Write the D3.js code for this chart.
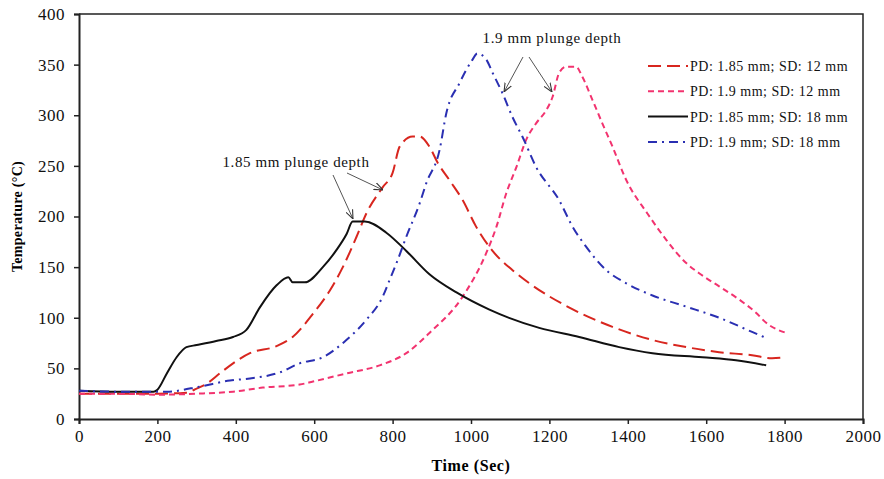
<!DOCTYPE html>
<html>
<head>
<meta charset="utf-8">
<script src="https://cdn.jsdelivr.net/npm/d3@7"></script>
<style>
  body { margin: 0; background: #fff; }
  text { font-family: "Liberation Serif", "Times New Roman", serif; }
</style>
</head>
<body>
<div id="chart"></div>
<script>
// Temperature vs time for four plunge/shoulder combinations
const width = 884, height = 479, margin = {top: 14, right: 21, bottom: 60, left: 79};

const xTicks = [0, 200, 400, 600, 800, 1000, 1200, 1400, 1600, 1800, 2000];
const yTicks = [0, 50, 100, 150, 200, 250, 300, 350, 400];

const seriesNames = ["PD: 1.85 mm; SD: 12 mm", "PD: 1.9 mm; SD: 12 mm", "PD: 1.85 mm; SD: 18 mm", "PD: 1.9 mm; SD: 18 mm"];

const redTime = [0, 100, 200, 274, 300, 326, 359, 393, 436, 504, 545, 597, 640, 673, 708, 733, 775, 800, 818, 851, 869, 894, 915, 945, 979, 1013, 1055, 1106, 1149, 1251, 1361, 1463, 1549, 1633, 1717, 1768, 1804];
const redTemp = [25, 25, 25, 26, 30, 35, 45, 55, 65, 72, 81, 104, 127, 150, 180, 203, 229, 243, 269, 279, 279, 269, 253, 236, 216, 190, 166, 147, 134, 110, 91, 78, 71, 66, 63, 60, 61];

const pinkTime = [0, 100, 200, 300, 393, 469, 563, 597, 682, 767, 835, 894, 979, 1039, 1065, 1090, 1116, 1141, 1166, 1192, 1208, 1225, 1243, 1268, 1284, 1310, 1335, 1361, 1396, 1450, 1498, 1549, 1582, 1633, 1684, 1727, 1753, 1804];
const pinkTemp = [25, 25, 24, 25, 27, 31, 34, 37, 45, 53, 65, 85, 121, 164, 190, 223, 249, 276, 292, 305, 318, 342, 348, 348, 338, 315, 292, 269, 236, 203, 177, 154, 144, 131, 118, 105, 95, 85];

const blackTime = [0, 100, 190, 200, 224, 249, 274, 300, 350, 393, 427, 461, 504, 534, 545, 576, 622, 657, 683, 698, 729, 784, 835, 894, 963, 1047, 1174, 1276, 1378, 1463, 1590, 1676, 1753];
const blackTemp = [28, 27, 27, 29, 45, 61, 71, 73, 77, 81, 88, 110, 132, 140, 135, 135, 150, 167, 183, 195, 195, 184, 166, 143, 125, 108, 90, 81, 71, 65, 61, 58, 53];

const blueTime = [0, 100, 224, 308, 385, 436, 512, 563, 622, 682, 733, 775, 792, 810, 835, 869, 886, 920, 937, 971, 1004, 1016, 1039, 1055, 1080, 1106, 1131, 1166, 1225, 1259, 1294, 1345, 1396, 1463, 1549, 1633, 1717, 1753];
const blueTemp = [28, 27, 27, 32, 38, 40, 46, 55, 61, 78, 98, 121, 137, 154, 180, 213, 233, 266, 302, 332, 355, 361, 355, 342, 322, 298, 279, 249, 216, 190, 170, 147, 134, 122, 111, 100, 86, 80];

const series = [
  {name: seriesNames[0], t: redTime, v: redTemp, color: "#d8261f", dash: "13,6"},
  {name: seriesNames[1], t: pinkTime, v: pinkTemp, color: "#f2336f", dash: "6,4"},
  {name: seriesNames[2], t: blackTime, v: blackTemp, color: "#111111", dash: null},
  {name: seriesNames[3], t: blueTime, v: blueTemp, color: "#2a2fb2", dash: "9,5,2,5"}
];

const svg = d3.select("#chart")
  .append("svg")
  .attr("width", width)
  .attr("height", height);

const x = d3.scaleLinear().domain([0, 2000]).range([margin.left, width - margin.right]);
const y = d3.scaleLinear().domain([0, 400]).range([height - margin.bottom, margin.top]);

// box (top + right)
svg.append("path")
  .attr("d", `M${margin.left},${margin.top}H${width - margin.right}V${height - margin.bottom}`)
  .attr("fill", "none").attr("stroke", "#222").attr("stroke-width", 1.5);

const xAxis = svg.append("g").attr("transform", `translate(0,${height - margin.bottom})`)
  .call(d3.axisBottom(x).tickValues(xTicks).tickFormat(d3.format("d")).tickSize(5).tickPadding(6));
const yAxis = svg.append("g").attr("transform", `translate(${margin.left},0)`)
  .call(d3.axisLeft(y).tickValues(yTicks).tickFormat(d3.format("d")).tickSize(5).tickPadding(9));
[xAxis, yAxis].forEach(a => {
  a.select(".domain").attr("stroke", "#222").attr("stroke-width", 2);
  a.selectAll(".tick line").attr("stroke", "#222").attr("stroke-width", 1.5);
  a.selectAll("text").attr("font-size", 17).attr("fill", "#111")
    .attr("letter-spacing", 0.5)
    .attr("font-family", "Liberation Serif, serif");
});

svg.append("text").attr("x", x(1000)).attr("y", 471)
  .attr("text-anchor", "middle").attr("font-size", 16).attr("font-weight", "bold")
  .attr("letter-spacing", 0.6)
  .text("Time (Sec)");
svg.append("text").attr("transform", "rotate(-90)")
  .attr("x", -y(200)).attr("y", 22)
  .attr("text-anchor", "middle").attr("font-size", 14).attr("font-weight", "bold")
  .attr("letter-spacing", 0.3)
  .text("Temperature (°C)");

const line = d3.line().curve(d3.curveMonotoneX);

series.forEach(s => {
  const pts = s.t.map((t, i) => [x(t), y(s.v[i])]);
  svg.append("path")
    .attr("d", line(pts))
    .attr("fill", "none")
    .attr("stroke", s.color)
    .attr("stroke-width", 2)
    .attr("stroke-dasharray", s.dash);
});

// legend
const legend = svg.append("g").attr("transform", "translate(648,66)");
series.forEach((s, i) => {
  legend.append("line")
    .attr("x1", 0).attr("x2", 40).attr("y1", i * 25.3).attr("y2", i * 25.3)
    .attr("stroke", s.color).attr("stroke-width", 2)
    .attr("stroke-dasharray", s.dash);
  legend.append("text")
    .attr("x", 42).attr("y", i * 25.3 + 5)
    .attr("font-size", 14).attr("fill", "#111")
    .attr("letter-spacing", 0.5)
    .text(s.name);
});

// annotations with arrows
svg.append("defs").append("marker")
  .attr("id", "arrow").attr("viewBox", "0 0 10 10")
  .attr("refX", 10).attr("refY", 5)
  .attr("markerWidth", 9).attr("markerHeight", 9)
  .attr("orient", "auto")
  .append("path").attr("d", "M0,1L10,5L0,9").attr("fill", "none")
  .attr("stroke", "#333").attr("stroke-width", 1.2);

const notes = [
  {text: "1.85 mm plunge depth", tx: 296, ty: 167, arrows: [[333, 175, 353, 219], [347, 173, 383, 190]]},
  {text: "1.9 mm plunge depth", tx: 552, ty: 43, arrows: [[523, 57, 504, 92], [529, 57, 552, 92]]}
];
notes.forEach(n => {
  svg.append("text").attr("x", n.tx).attr("y", n.ty)
    .attr("text-anchor", "middle").attr("font-size", 15).attr("fill", "#111")
    .attr("letter-spacing", 0.6)
    .text(n.text);
  n.arrows.forEach(a => {
    svg.append("line")
      .attr("x1", a[0]).attr("y1", a[1]).attr("x2", a[2]).attr("y2", a[3])
      .attr("stroke", "#555").attr("stroke-width", 1)
      .attr("marker-end", "url(#arrow)");
  });
});
</script>
</body>
</html>
